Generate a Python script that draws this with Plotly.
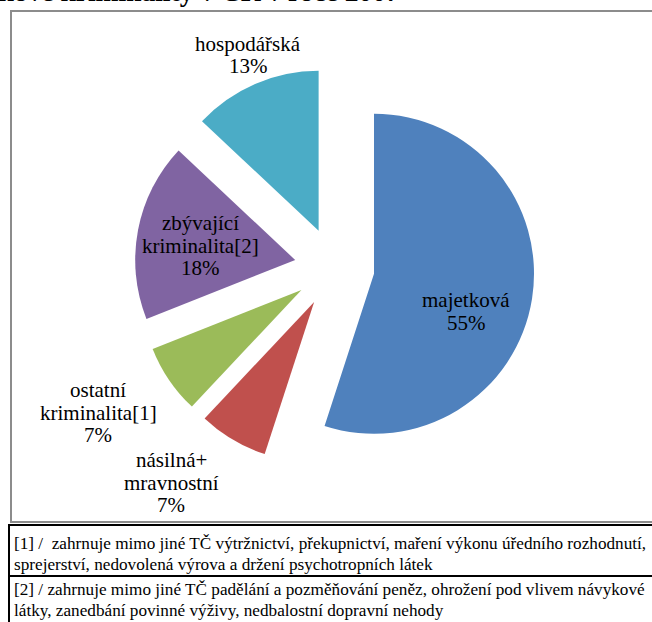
import plotly.graph_objects as go

# ---- data ----
categories = ["majetková", "násilná+ mravnostní", "ostatní kriminalita[1]",
              "zbývající kriminalita[2]", "hospodářská"]
label_lines = [["majetková"], ["násilná+", "mravnostní"], ["ostatní", "kriminalita[1]"],
               ["zbývající", "kriminalita[2]"], ["hospodářská"]]
values = [55, 7, 7, 18, 13]
colors = ["#4F81BD", "#C0504D", "#9BBB59", "#8064A2", "#4BACC6"]
title_text = "Struktura celkové kriminality v ČR v roce 2007"
footnote1 = ["[1] /\u00a0\u00a0zahrnuje mimo jiné TČ výtržnictví, překupnictví, maření výkonu úředního rozhodnutí,",
             "sprejerství, nedovolená výrova a držení psychotropních látek"]
footnote2 = ["[2] / zahrnuje mimo jiné TČ padělání a pozměňování peněz, ohrožení pod vlivem návykové",
             "látky, zanedbání povinné výživy, nedbalostní dopravní nehody"]

W, H = 652, 622
def px(x):
    return x / W
def py(y):
    return 1 - y / H

# pie geometry (pixels)
cx, cy, box = 334.5, 267.5, 400
fig = go.Figure(go.Pie(
    labels=categories, values=values, sort=False, direction="clockwise", rotation=0,
    pull=[0.25] * len(values), marker=dict(colors=colors, line=dict(width=0)),
    textinfo="none", hoverinfo="skip", showlegend=False,
    domain=dict(x=[px(cx - box / 2), px(cx + box / 2)], y=[py(cy + box / 2), py(cy - box / 2)]),
))

total = sum(values)
# (x centre, first line y centre) for each label block
label_pos = [(466, 300), (171, 460), (98, 390), (200, 223), (248, 44)]
line_step = 22.5
serif = "'Times New Roman', 'Liberation Serif', Tinos, 'DejaVu Serif', serif"
annotations = []
for lines, v, (x, y0) in zip(label_lines, values, label_pos):
    pct = round(100 * v / total)
    for k, t in enumerate(lines + [f"{pct}%"]):
        annotations.append(dict(
            x=px(x), y=py(y0 + k * line_step), xref="paper", yref="paper", showarrow=False,
            text=t, xanchor="center", yanchor="middle",
            font=dict(family=serif, size=21, color="#000000")))

# clipped title
annotations.append(dict(x=px(402), y=py(-8), xref="paper", yref="paper", showarrow=False,
                        text=f"<b>{title_text}</b>", xanchor="right", yanchor="middle",
                        font=dict(family=serif, size=27.5, color="#000000")))

# footnotes
for t, y in zip(footnote1 + footnote2, [543, 564, 589, 610]):
    annotations.append(dict(x=px(12), y=py(y), xref="paper", yref="paper", showarrow=False,
                            text=t, xanchor="left", yanchor="middle",
                            font=dict(family=serif, size=17.2, color="#000000")))

shapes = [
    dict(type="rect", xref="paper", yref="paper", x0=px(11), x1=px(660), y0=py(522), y1=py(11),
         line=dict(color="#8c8c8c", width=2)),
    dict(type="rect", xref="paper", yref="paper", x0=px(9), x1=px(660), y0=py(576), y1=py(525),
         line=dict(color="#000000", width=2)),
    dict(type="rect", xref="paper", yref="paper", x0=px(9), x1=px(660), y0=py(640), y1=py(576),
         line=dict(color="#000000", width=2)),
]

fig.update_layout(width=W, height=H, margin=dict(l=0, r=0, t=0, b=0),
                  paper_bgcolor="white", plot_bgcolor="white",
                  font=dict(family=serif),
                  annotations=annotations, shapes=shapes)
fig.write_html("out.html", config={"displayModeBar": False},
               post_script="document.body.style.margin='0';")
